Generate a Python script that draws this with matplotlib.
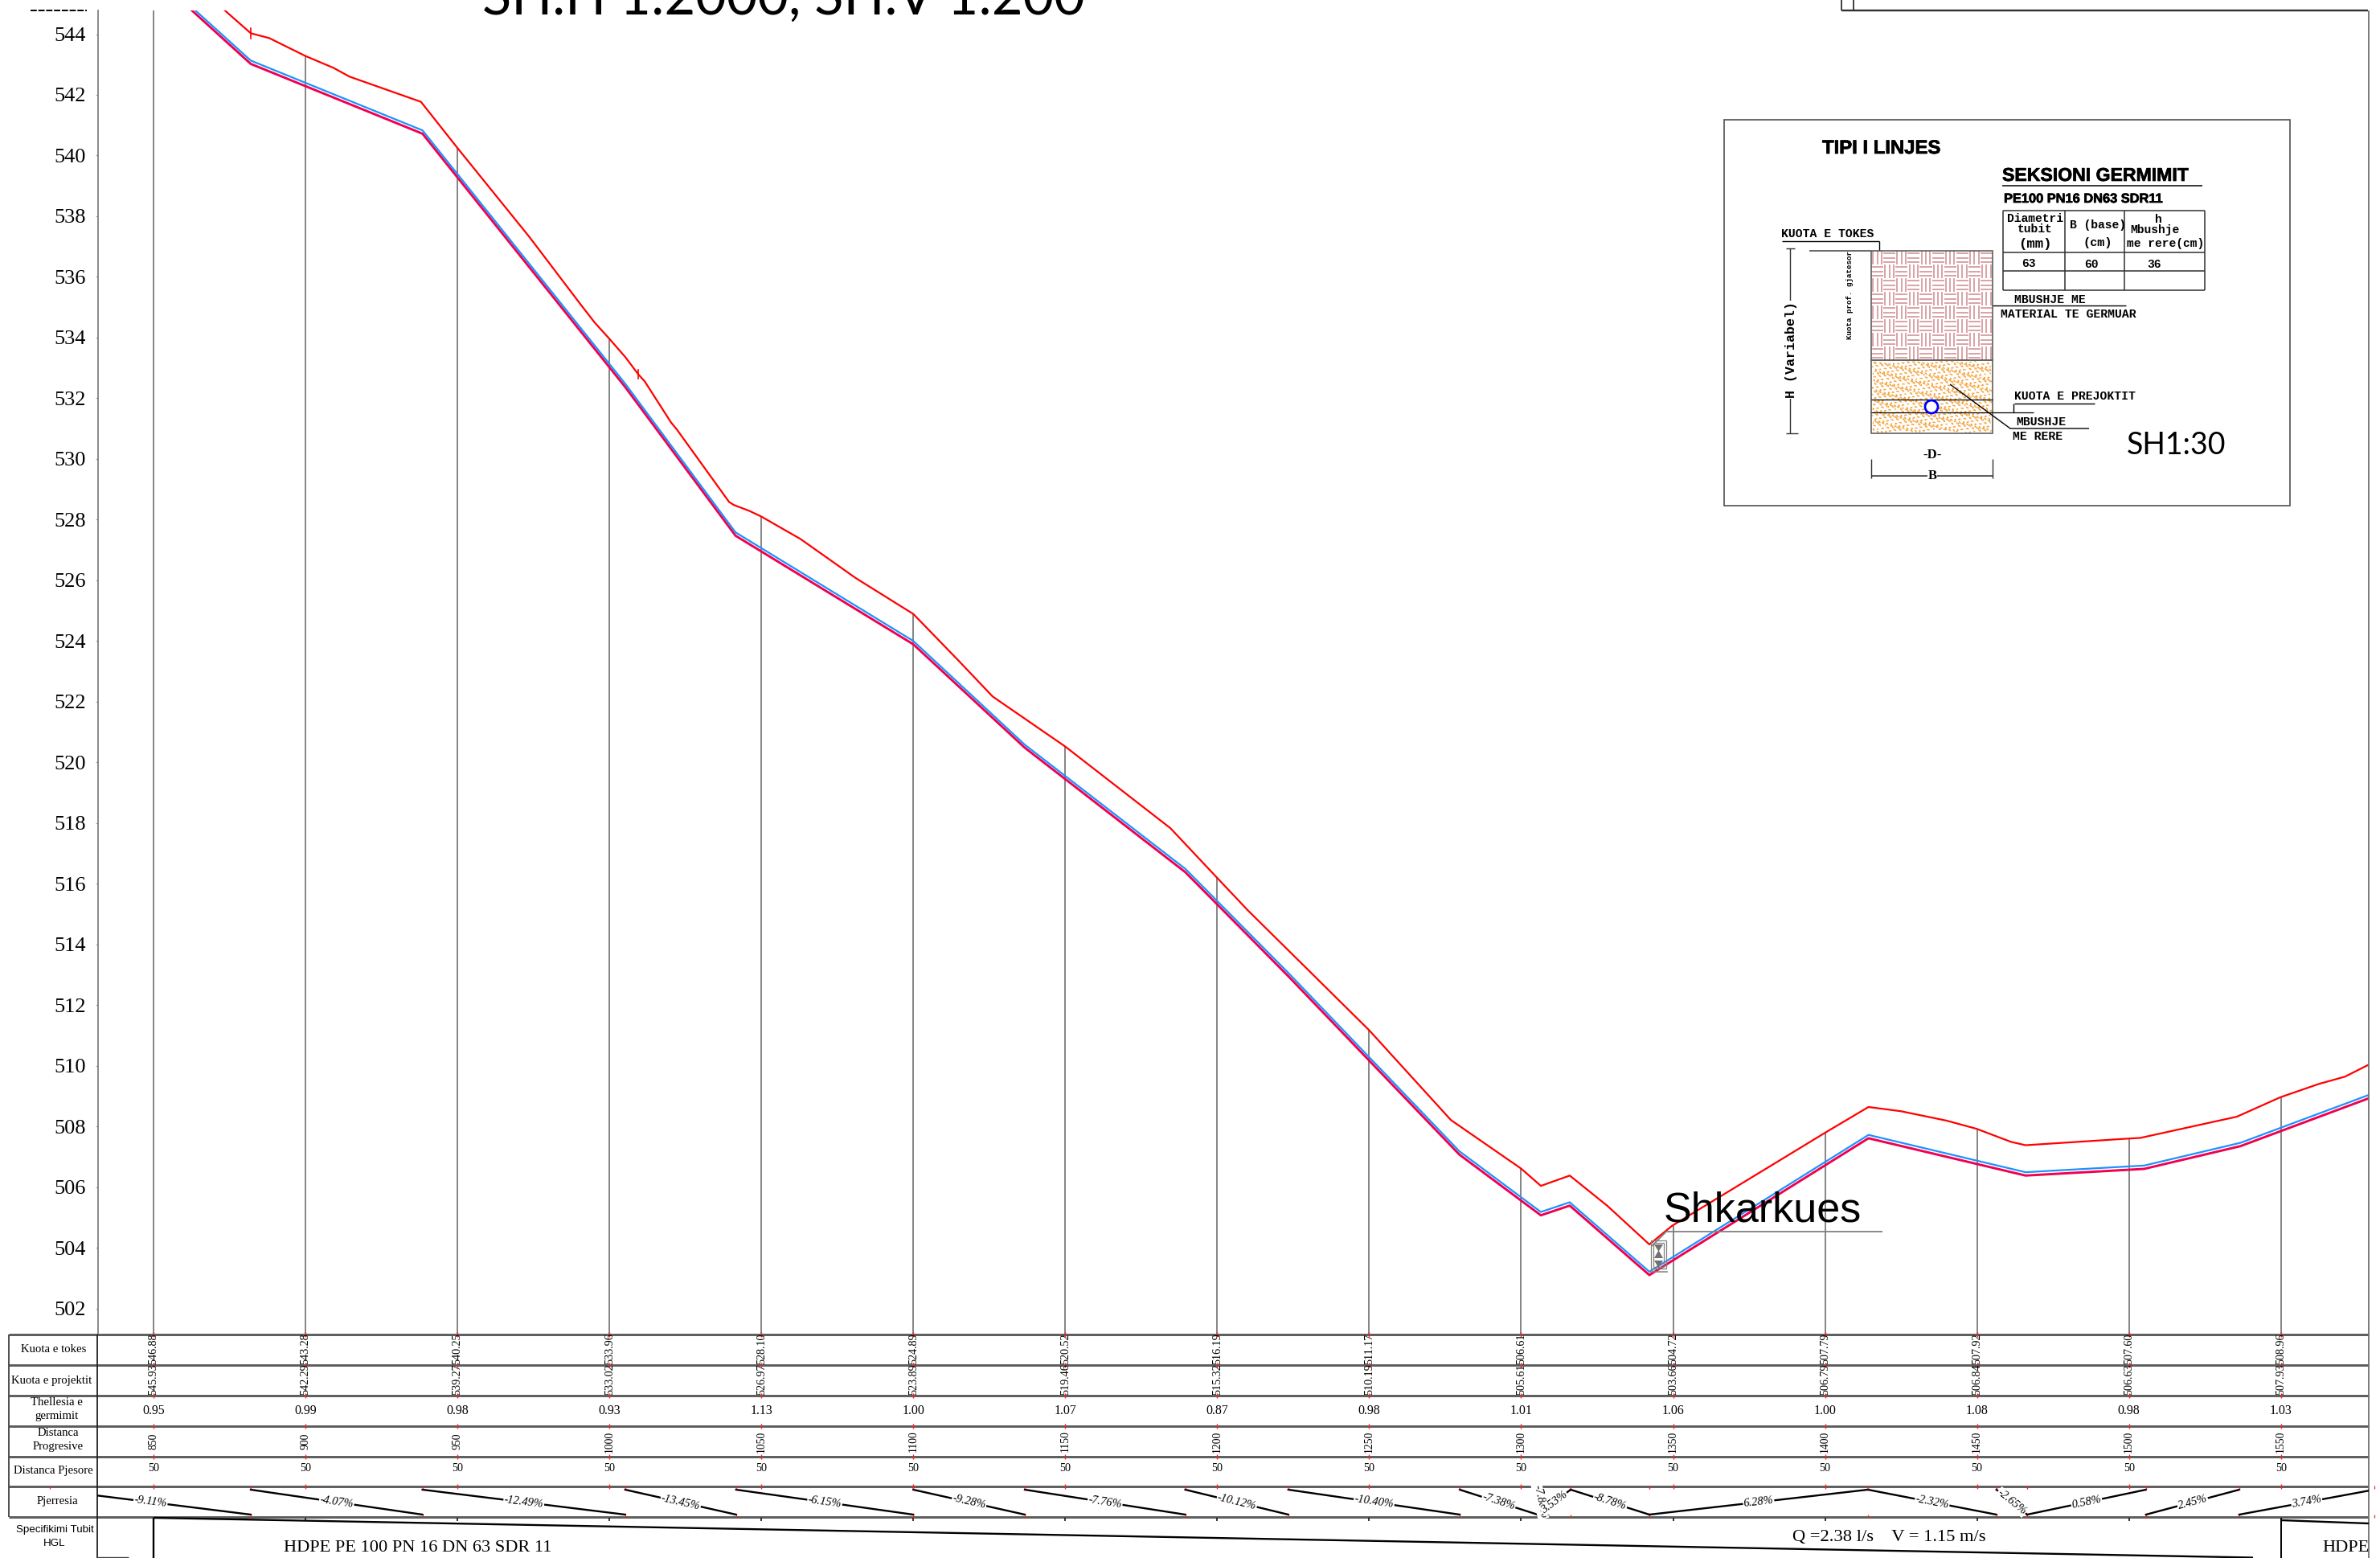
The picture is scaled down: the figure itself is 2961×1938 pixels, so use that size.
import numpy as np
import matplotlib
matplotlib.use('Agg')
import matplotlib.pyplot as plt
import matplotlib.patheffects as pe
from matplotlib import transforms
from matplotlib.collections import LineCollection
from matplotlib.patches import Rectangle, Circle, Polygon

W, H = 2961, 1938
SERIF = 'Liberation Serif'
SANS = 'Liberation Sans'
MONO = 'Liberation Mono'

# stations and table rows
stations = [850, 900, 950, 1000, 1050, 1100, 1150, 1200, 1250, 1300, 1350, 1400, 1450, 1500, 1550]
kuota_tokes = ['546.88', '543.28', '540.25', '533.96', '528.10', '524.89', '520.52', '516.19',
               '511.17', '506.61', '504.72', '507.79', '507.92', '507.60', '508.96']
kuota_proj = ['545.93', '542.29', '539.27', '533.02', '526.97', '523.89', '519.46', '515.32',
              '510.19', '505.61', '503.66', '506.79', '506.84', '506.63', '507.93']
thellesia = ['0.95', '0.99', '0.98', '0.93', '1.13', '1.00', '1.07', '0.87',
             '0.98', '1.01', '1.06', '1.00', '1.08', '0.98', '1.03']
dist_pjesore = ['50'] * 15
ground_at_station = [546.88, 543.28, 540.25, 533.96, 528.10, 524.89, 520.52, 516.19,
                     511.17, 506.61, 504.72, 507.79, 507.92, 507.60, 508.96]

# terrain line
ground_d = [850, 872.7, 882, 888.1, 900, 909.2, 914.5, 938, 950, 973.8, 990.7, 995.2, 1000, 1005.3,
            1009.5, 1011.6, 1020.3, 1022.2, 1039.4, 1041, 1046, 1050, 1062.9, 1081.1, 1100, 1115,
            1126.1, 1150, 1184.6, 1200, 1210, 1250, 1276.9, 1300, 1306.5, 1316, 1328.4, 1342.2,
            1349.6, 1400, 1414.3, 1425, 1440, 1449.9, 1461.2, 1466, 1500, 1503.7, 1535.5, 1549.8,
            1562.5, 1571.1, 1579]
ground_e = [546.88, 544.85, 544.03, 543.87, 543.28, 542.89, 542.6, 541.77, 540.25, 537.3, 535.07,
            534.49, 533.96, 533.35, 532.79, 532.56, 531.2, 530.97, 528.58, 528.48, 528.29, 528.10,
            527.36, 526.07, 524.89, 523.34, 522.17, 520.52, 517.83, 516.19, 515.13, 511.17, 508.21,
            506.61, 506.04, 506.38, 505.38, 504.11, 504.72, 507.79, 508.64, 508.5, 508.19, 507.92,
            507.49, 507.38, 507.60, 507.62, 508.32, 508.96, 509.4, 509.64, 510.04]

# pipe line and the blue line just above it
pipe_d = [850, 882, 938.5, 1005.2, 1041.5, 1100, 1136.7, 1189.5, 1223.4, 1279.7, 1306.5, 1316,
          1342.2, 1414.3, 1466, 1505, 1536.7, 1579]
pipe_e = [545.93, 543.02, 540.72, 532.37, 527.47, 523.89, 520.48, 516.38, 512.95, 507.07, 505.07,
          505.39, 503.10, 507.61, 506.38, 506.60, 507.35, 508.93]
blue_e = [546.03, 543.13, 540.83, 532.48, 527.58, 524.0, 520.58, 516.49, 513.06, 507.18, 505.18,
          505.5, 503.21, 507.72, 506.49, 506.71, 507.46, 509.04]

# slope row
slope_breaks = [816, 882, 938.5, 1005.2, 1041.7, 1100, 1136.7, 1189.5, 1223.4, 1279.8, 1305.4,
                1316.3, 1342.2, 1414.1, 1456.4, 1466.5, 1505.6, 1536.3, 1580.7]
slope_labels = ['-9.11%', '-4.07%', '-12.49%', '-13.45%', '-6.15%', '-9.28%', '-7.76%', '-10.12%',
                '-10.40%', '-7.38%', '3.53%', '-8.78%', '6.28%', '-2.32%', '-2.65%', '0.58%',
                '2.45%', '3.74%']

row_lines = [1660, 1698, 1736, 1774, 1812, 1849, 1887]
row_names = [('Kuota e tokes', 67, 1679), ('Kuota e projektit', 64, 1717), ('Thellesia e', 70, 1745),
             ('germimit', 70, 1762), ('Distanca', 72, 1783), ('Progresive', 72, 1799),
             ('Distanca Pjesore', 66, 1829), ('Pjerresia', 71, 1868)]

fig = plt.figure(figsize=(W / 100, H / 100), dpi=100)

# profile axes
ax = fig.add_axes([122 / W, (H - 1660) / H, (2947 - 122) / W, (1660 - 13) / H])
ax.set_xlim(850 + (122 - 191) / 3.781, 850 + (2947 - 191) / 3.781)
ax.set_ylim(544 - (1660 - 42.5) / 37.74, 544 + 29.5 / 37.74)
for s in ['top', 'right', 'bottom']:
    ax.spines[s].set_visible(False)
ax.spines['left'].set_color('#808080')
ax.spines['left'].set_linewidth(1.3)
ax.set_xticks([])
ax.set_yticks(np.arange(502, 545, 2))
ax.tick_params(axis='y', length=2, color='#c89090', pad=9, labelsize=19)
for lab in ax.get_yticklabels():
    lab.set_family(SERIF)

ax.vlines(stations, ax.get_ylim()[0], ground_at_station, color='#808080', lw=1.35, zorder=1)
ax.plot(ground_d, ground_e, color='#ff0000', lw=1.6, zorder=3)
ax.plot(pipe_d, pipe_e, color='#f0004e', lw=2.1, zorder=3)
ax.plot(pipe_d, blue_e, color='#1e90ff', lw=1.6, zorder=4)
ax.plot([882, 882], [543.85, 544.2], color='#ff0000', lw=1.2, zorder=3)
ax.plot([1009.5, 1009.5], [532.65, 532.95], color='#ff0000', lw=1.2, zorder=3)

# overlay in pixels for table, title and the detail sheet
ov = fig.add_axes([0, 0, 1, 1], zorder=5)
ov.set_xlim(0, W)
ov.set_ylim(H, 0)
ov.axis('off')
ov.patch.set_alpha(0)
st = transforms.blended_transform_factory(ax.transData, ov.transData)


def txt(x, y, s, size, family=SERIF, ha='center', va='center', **kw):
    return ov.text(x, y, s, fontsize=size, family=family, ha=ha, va=va, **kw)


def seg(xs, ys, color='black', lw=1.0, **kw):
    ov.plot(xs, ys, color=color, lw=lw, solid_capstyle='butt', **kw)


# table frame
ov.hlines(row_lines, 11, 2947, color='#5c5c5c', lw=2.1, zorder=1)
seg([11, 11], [1660, 1887], color='#404040', lw=1.3)
seg([121, 121], [1660, 1938], color='#202020', lw=1.3)
seg([2946.5, 2946.5], [13, H], color='#707070', lw=1.3)
seg([121, 160], [1937, 1937], color='#404040', lw=1.0)
for name, x, y in row_names:
    txt(x, y, name, 10.6)
txt(68, 1903, 'Specifikimi Tubit', 9.6, family=SANS)
txt(68, 1920, 'HGL', 9.6, family=SANS)

for i, d in enumerate(stations):
    for y in row_lines[:-1]:
        ov.plot([d, d], [y - 3, y + 3], color='#ff2020', lw=1.0, transform=st, solid_capstyle='butt', zorder=2)
    ov.plot([d, d], [1888, 1892], color='black', lw=1.1, transform=st, solid_capstyle='butt')
    ov.text(d, 1697, kuota_tokes[i], rotation=90, fontsize=10.2, family=SERIF, ha='center', va='bottom', transform=st, zorder=3)
    ov.text(d, 1735, kuota_proj[i], rotation=90, fontsize=10.2, family=SERIF, ha='center', va='bottom', transform=st, zorder=3)
    ov.text(d, 1755, thellesia[i], fontsize=11.4, family=SERIF, ha='center', va='center', transform=st)
    ov.text(d, 1793, str(d), rotation=90, fontsize=9.8, family=SERIF, ha='center', va='center', transform=st)
    ov.text(d, 1826, dist_pjesore[i], fontsize=10.2, family=SERIF, ha='center', va='center', transform=st)

# slope row
clip = Rectangle((121, 1849), 2826, 38, transform=ov.transData)
hi, lo = 1853, 1884
for i, lab in enumerate(slope_labels):
    d0, d1 = slope_breaks[i], slope_breaks[i + 1]
    y0, y1 = (hi, lo) if lab.startswith('-') else (lo, hi)
    line, = ov.plot([d0, d1], [y0, y1], color='black', lw=1.7, transform=st, zorder=2)
    line.set_clip_path(clip)
    p0 = ax.transData.transform((d0, 0))[0]
    p1 = ax.transData.transform((d1, 0))[0]
    ang = -np.degrees(np.arctan2(y1 - y0, p1 - p0))
    ov.text((d0 + d1) / 2, (y0 + y1) / 2, lab, rotation=ang, rotation_mode='anchor', fontsize=10.4,
            family=SERIF, style='italic', ha='center', va='center', transform=st, zorder=4,
            bbox=dict(fc='white', ec='none', pad=0.6))
    for d, y in [(d0, 1850), (d1, 1850), (d1, 1886)]:
        ov.plot([d, d], [y - 2, y + 2], color='#ff2020', lw=0.9, transform=st, solid_capstyle='butt', zorder=2)
ov.text(1306.2, 1868, '-7.88%', rotation=-78, rotation_mode='anchor', fontsize=10.4, family=SERIF, style='italic',
        ha='center', va='center', transform=st, zorder=3, bbox=dict(fc='white', ec='none', pad=0.4))

# pipe spec row
seg([191, 191], [1888, H], lw=1.7)
seg([191, 2803], [1888, 1937.5], lw=1.7)
seg([2838, 2838], [1888, H], lw=1.4)
seg([2838, 2947], [1891, 1895], lw=1.7)
txt(520, 1925, 'HDPE PE 100 PN 16 DN 63 SDR 11', 16.1)
txt(2350, 1912, 'Q =2.38 l/s    V = 1.15 m/s', 16.2)
txt(2889, 1925, 'HDPE', 16.1, ha='left')

# title, clipped by the sheet edge, and the corner of the title block
txt(600, 18, 'SH.H 1:2000, SH.V 1:200', 48, family='Lato', ha='left', va='baseline')
seg([2291, 2946], [13, 13], color='#303030', lw=1.7)
seg([2291, 2291], [0, 13], color='#303030', lw=1.3)
seg([2306, 2306], [0, 13], color='#303030', lw=1.3)
seg([38, 108], [12.5, 12.5], lw=1.4, ls=(0, (4, 1)))

# discharge valve
txt(2070, 1520, 'Shkarkues', 37.5, family=SANS, ha='left', va='baseline')
seg([2055, 2073, 2342], [1550, 1532, 1532], color='#808080', lw=1.3)
for x0, y0, w, h in [(2054, 1543, 19, 35), (2057, 1546, 13, 30)]:
    ov.add_patch(Rectangle((x0, y0), w, h, fc='none', ec='#808080', lw=0.9))
ov.add_patch(Polygon([(2058, 1548), (2069, 1548), (2064, 1556), (2069, 1565), (2058, 1565), (2063, 1556)], fc='#707070', ec='none'))
ov.add_patch(Polygon([(2058, 1568), (2069, 1568), (2063.5, 1577)], fc='#707070', ec='none'))
seg([2052, 2075], [1582, 1582], color='#808080', lw=1.1)

# detail sheet
heavy = [pe.withStroke(linewidth=0.5, foreground='black')]
ov.add_patch(Rectangle((2144.5, 149), 704.5, 480, fc='white', ec='#505050', lw=1.2, zorder=1))
txt(2267, 191, 'TIPI I LINJES', 17.2, family=SANS, ha='left', va='baseline', weight='bold', path_effects=heavy)
txt(2491, 225, 'SEKSIONI GERMIMIT', 16.6, family=SANS, ha='left', va='baseline', weight='bold', path_effects=heavy)
txt(2493, 252, 'PE100 PN16 DN63 SDR11', 11.8, family=SANS, ha='left', va='baseline', weight='bold', path_effects=heavy)
seg([2491, 2740], [231, 231], lw=1.1)

# weave of the excavated fill
wx0, wx1, wy0, wy1, wy2 = 2328, 2479, 312, 448, 539
cw, ch = (wx1 - wx0) / 10, (wy1 - wy0) / 8
weave = []
for i in range(10):
    for j in range(8):
        x0, y0 = wx0 + i * cw, wy0 + j * ch
        for k in (0.15, 0.5, 0.85):
            if (i + j) % 2:
                weave.append([(x0, y0 + k * ch), (x0 + cw, y0 + k * ch)])
            else:
                weave.append([(x0 + k * cw, y0), (x0 + k * cw, y0 + ch)])
ov.add_collection(LineCollection(weave, colors='#d89c9c', linewidths=1.3, zorder=2))

# sand speckle
specks = []
n = 1300
for i in range(n):
    x = wx0 + 2 + (wx1 - wx0 - 4) * ((i * 0.6180339) % 1)
    y = wy1 + 2 + (wy2 - wy1 - 4) * ((i * 0.7548777) % 1)
    a = 2 * np.pi * ((i * 0.5698403) % 1)
    specks.append([(x, y), (x + 2.5 * np.cos(a), y + 2.5 * np.sin(a))])
ov.add_collection(LineCollection(specks, colors='#f4a23a', linewidths=0.9, zorder=2))
ov.add_patch(Rectangle((wx0, wy0), wx1 - wx0, wy1 - wy0, fc='none', ec='#606060', lw=1.2, zorder=3))
ov.add_patch(Rectangle((wx0, wy1), wx1 - wx0, wy2 - wy1, fc='none', ec='#606060', lw=1.2, zorder=3))
seg([wx0, wx1], [497, 497], lw=0.9, zorder=3)
seg([wx0, 2530], [513, 513], lw=0.9, zorder=3)
ov.add_patch(Circle((2403, 506), 8, fc='white', ec='#0000ff', lw=2.0, zorder=4))

# section table
for x in [2492, 2569, 2643, 2743]:
    seg([x, x], [262, 361], color='#303030', lw=1.1)
for y in [262, 314, 337, 361]:
    seg([2492, 2743], [y, y], color='#303030', lw=1.1)
mono = dict(family=MONO, weight='bold')
for x, y, s, size in [(2532, 272, 'Diametri', 10.5), (2532, 285, 'tubit', 10.5), (2532, 303, '(mm)', 12.5),
                      (2610, 280, 'B (base)', 10.5), (2610, 302, '(cm)', 11), (2685, 273, 'h', 10.5),
                      (2681, 286, 'Mbushje', 10.5), (2694, 303, 'me rere(cm)', 10.5),
                      (2524, 328, '63', 10.5), (2602, 329, '60', 10.5), (2680, 329, '36', 10.5)]:
    txt(x, y, s, size, **mono)

# labels and leaders
for x, y, s in [(2216, 291, 'KUOTA E TOKES'), (2506, 373, 'MBUSHJE ME'), (2489, 391, 'MATERIAL TE GERMUAR'),
                (2506, 493, 'KUOTA E PREJOKTIT'), (2508, 525, 'MBUSHJE'), (2504, 543, 'ME RERE')]:
    txt(x, y, s, 10.6, ha='left', **mono)
seg([2217, 2338], [300, 300], lw=1.0)
seg([2338, 2338], [300, 312], lw=1.0)
seg([2251, 2328], [312, 312], color='#404040', lw=1.1)
seg([2477.5, 2645], [380, 380], lw=1.0)
seg([2506, 2606], [502, 502], lw=1.0)
seg([2505, 2505], [502, 513], lw=1.0)
seg([2426, 2501, 2599], [478, 533, 533], lw=1.0, zorder=3)
seg([2227, 2227], [309, 539], color='#303030', lw=1.0)
seg([2222, 2233], [309, 309], color='#303030', lw=1.0)
seg([2222, 2237], [539, 539], color='#303030', lw=1.0)
txt(2228, 435, 'H (Variabel)', 12, rotation=90, bbox=dict(fc='white', ec='none', pad=1), **mono)
txt(2301, 367, 'Kuota prof. gjatesor', 6.6, rotation=90, **mono)
txt(2404, 566, '-D-', 12, weight='bold')
seg([2328, 2479], [592, 592], color='#303030', lw=1.1)
seg([2328, 2328], [571, 595], color='#303030', lw=1.0)
seg([2479, 2479], [571, 595], color='#303030', lw=1.0)
txt(2404, 592, 'B', 12, weight='bold', bbox=dict(fc='white', ec='none', pad=0.5))
txt(2646, 565, 'SH1:30', 27, family='Lato', ha='left', va='baseline')

fig.savefig('out.png', dpi=100, facecolor='white')
